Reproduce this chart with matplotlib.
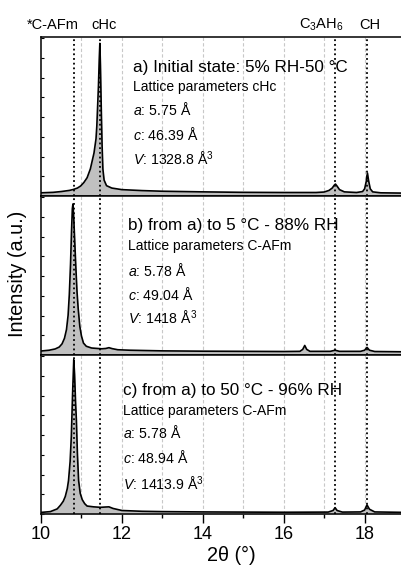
#XRD patterns of the three states, stacked panels

#Libraries
import numpy as np
import matplotlib
matplotlib.use("Agg")
import matplotlib.pyplot as plt
import matplotlib.transforms as mtransforms

plt.rcParams['font.family'] = ['Liberation Sans', 'DejaVu Sans']
plt.rcParams['mathtext.fontset'] = 'custom'
plt.rcParams['mathtext.rm'] = 'Liberation Sans'
plt.rcParams['mathtext.it'] = 'Liberation Sans:italic'

#Data (2theta in degrees, intensity in % of panel height)
two_theta_a = [10.0, 10.3, 10.5, 10.7, 10.8, 10.9, 10.98, 11.06, 11.14, 11.22, 11.31, 11.36,
               11.38, 11.42, 11.44, 11.455, 11.47, 11.49, 11.51, 11.53, 11.56, 11.62, 11.75,
               12.0, 12.5, 13.0, 14.0, 15.0, 16.0, 16.8, 17.0, 17.12, 17.2, 17.25, 17.28,
               17.32, 17.38, 17.5, 17.8, 17.95, 18.0, 18.04, 18.07, 18.1, 18.14, 18.2, 18.4, 19.0]
intensity_a = [2.0, 2.3, 2.8, 3.5, 4.1, 5.0, 6.3, 8.5, 11.5, 17.0, 27.0, 36.0,
               44.0, 69.0, 86.0, 96.0, 82.0, 55.0, 32.0, 17.0, 10.0, 6.5, 5.0,
               4.0, 3.4, 3.0, 2.6, 2.3, 2.2, 2.2, 2.5, 3.5, 5.0, 6.8, 7.5,
               6.2, 4.0, 2.6, 2.2, 2.8, 4.5, 9.0, 14.5, 9.5, 4.5, 2.6, 2.0, 1.8]

two_theta_b = [10.0, 10.2, 10.35, 10.45, 10.52, 10.58, 10.63, 10.67, 10.7, 10.73, 10.755,
               10.775, 10.79, 10.81, 10.83, 10.86, 10.89, 10.92, 10.96, 11.0, 11.05, 11.12,
               11.25, 11.5, 11.6, 11.68, 11.76, 11.9, 12.2, 13.0, 14.0, 15.0, 16.0, 16.4,
               16.47, 16.52, 16.57, 16.65, 17.15, 17.27, 17.38, 17.9, 18.0, 18.06, 18.12,
               18.25, 19.0]
intensity_b = [2.5, 3.0, 3.8, 5.0, 7.0, 10.5, 16.0, 25.0, 38.0, 57.0, 78.0,
               92.0, 95.0, 86.0, 74.0, 56.0, 40.0, 29.0, 18.0, 12.0, 7.5, 5.5,
               4.4, 3.9, 4.1, 4.6, 4.0, 3.3, 3.0, 2.6, 2.4, 2.3, 2.2, 2.3,
               3.5, 6.0, 3.5, 2.3, 2.3, 3.0, 2.3, 2.3, 3.0, 4.8, 3.0,
               2.2, 2.0]

two_theta_c = [10.0, 10.23, 10.4, 10.48, 10.55, 10.6, 10.65, 10.68, 10.72, 10.75, 10.78,
               10.81, 10.83, 10.855, 10.875, 10.9, 10.93, 10.97, 11.02, 11.08, 11.14, 11.3,
               11.47, 11.6, 11.68, 11.78, 12.0, 12.5, 13.0, 14.0, 15.0, 16.0, 17.1, 17.22,
               17.27, 17.32, 17.45, 17.9, 18.0, 18.06, 18.12, 18.25, 19.0]
intensity_c = [1.0, 1.5, 3.2, 5.5, 8.0, 11.0, 16.0, 21.0, 33.0, 49.0, 75.0,
               97.0, 88.0, 70.0, 59.0, 38.0, 21.0, 13.0, 9.0, 6.5, 5.0, 4.5,
               4.2, 4.4, 4.5, 3.5, 2.2, 1.7, 1.5, 1.3, 1.2, 1.1, 1.2, 2.2,
               4.0, 2.2, 1.2, 1.3, 2.5, 5.7, 3.0, 1.3, 1.0]

phase_names = ['*C-AFm', 'cHc', 'C$_3$AH$_6$', 'CH']
phase_label_x = [10.3, 11.56, 16.93, 18.13]
ref_lines = [10.82, 11.45, 17.27, 18.07]

titles = ['a) Initial state: 5% RH-50 °C',
          'b) from a) to 5 °C - 88% RH',
          'c) from a) to 50 °C - 96% RH']
lattice_of = ['cHc', 'C-AFm', 'C-AFm']
a_vals = ['5.75', '5.78', '5.78']
c_vals = ['46.39', '49.04', '48.94']
v_vals = ['1328.8', '1418', '1413.9']

#Layout
W, H = 401, 569
fig = plt.figure(figsize=(W / 100, H / 100), dpi=100)
left = 41 / W
width = 9 * 40.45 / W
panel_h = 159 / H
tops = [37, 196, 355]

text_x = [12.27, 12.15, 12.03]
text_y = [[78, 66, 51, 35, 19.5],
          [78.6, 66, 50, 34.6, 19],
          [75, 62, 48, 32, 15]]

series = [(two_theta_a, intensity_a), (two_theta_b, intensity_b), (two_theta_c, intensity_c)]

axes = []
for i, (xs, ys) in enumerate(series):
    bottom = 1 - (tops[i] + 159) / H
    ax = fig.add_axes([left, bottom, width, panel_h])
    axes.append(ax)
    ax.set_xlim(10, 19)
    ax.set_ylim(0, 100)

    for g in range(11, 19):
        ax.axvline(g, color='#c8c8c8', ls=(0, (3, 2)), lw=0.8, zorder=1)
    ax.fill_between(xs, ys, 0, color='#c0c0c0', lw=0, zorder=2)
    ax.plot(xs, ys, color='black', lw=1.2, zorder=3)
    for r in ref_lines:
        ax.axvline(r, color='black', ls=(0, (1, 1.6)), lw=1.3, zorder=4)

    ax.spines['right'].set_visible(False)
    for s in ['top', 'bottom', 'left']:
        ax.spines[s].set_linewidth(1.1)
    ax.set_yticks(np.arange(0, 100, 12.4))
    ax.tick_params(axis='y', direction='in', length=2.5, width=0.8, labelleft=False)

    tx = text_x[i]
    ty = text_y[i]
    ax.text(tx, ty[0], titles[i], fontsize=12.3, va='baseline')
    ax.text(tx, ty[1], f'Lattice parameters {lattice_of[i]}', fontsize=10, va='baseline')
    ax.text(tx, ty[2], f'$\\mathit{{a}}$: {a_vals[i]} Å', fontsize=10.2, va='baseline')
    ax.text(tx, ty[3], f'$\\mathit{{c}}$: {c_vals[i]} Å', fontsize=10.2, va='baseline')
    ax.text(tx, ty[4], f'$\\mathit{{V}}$: {v_vals[i]} Å$^3$', fontsize=10.2, va='baseline')

    if i < 2:
        ax.tick_params(axis='x', bottom=False, labelbottom=False)
    else:
        ax.set_xticks([10, 12, 14, 16, 18])
        ax.set_xticks([11, 13, 15, 17], minor=True)
        ax.tick_params(axis='x', which='major', direction='out', length=6.5, width=1.0,
                       labelsize=13, pad=2)
        ax.tick_params(axis='x', which='minor', direction='out', length=3, width=1.0)

#Phase labels above the top panel
trans = mtransforms.blended_transform_factory(axes[0].transData, axes[0].transAxes)
for name, px in zip(phase_names, phase_label_x):
    axes[0].text(px, 1.05, name, transform=trans, ha='center', va='baseline', fontsize=10.5)

fig.text(18 / W, 1 - 274 / H, 'Intensity (a.u.)', rotation=90, ha='center', va='center', fontsize=14.3)
fig.text(231 / W, 1 - 555 / H, '2θ (°)', ha='center', va='center', fontsize=14.3)

fig.savefig('out.png', dpi=100)
